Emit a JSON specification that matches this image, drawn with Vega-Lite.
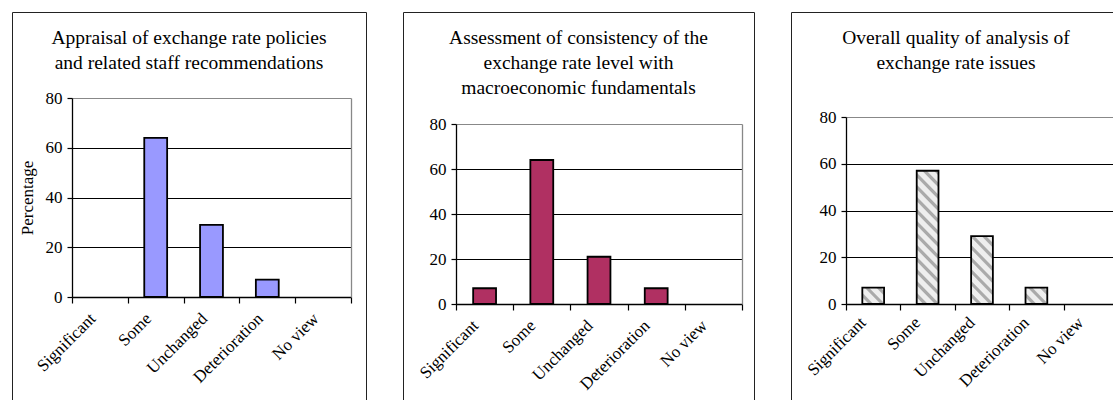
{
  "$schema": "https://vega.github.io/schema/vega-lite/v6.json",
  "padding": {"left": 10, "top": 11, "right": 0, "bottom": 0},
  "spacing": 34,
  "config": {
    "view": {"stroke": "#222", "strokeWidth": 1},
    "font": "Liberation Serif",
    "axis": {"labelFont": "Liberation Serif", "labelFontSize": 17, "labelColor": "black", "titleFont": "Liberation Serif", "titleFontSize": 17, "titleFontWeight": "normal", "titleColor": "black", "domainColor": "black", "tickColor": "black", "domainWidth": 1.3, "tickWidth": 1.2},
    "title": {"font": "Liberation Serif", "fontSize": 19.5, "fontWeight": "normal", "color": "black", "anchor": "middle", "lineHeight": 25, "frame": "group"}
  },
  "datasets": {
    "survey": [
      {"panel": "A", "cat": "Significant", "pct": 0},
      {"panel": "A", "cat": "Some", "pct": 64},
      {"panel": "A", "cat": "Unchanged", "pct": 29},
      {"panel": "A", "cat": "Deterioration", "pct": 7},
      {"panel": "A", "cat": "No view", "pct": 0},
      {"panel": "B", "cat": "Significant", "pct": 7},
      {"panel": "B", "cat": "Some", "pct": 64},
      {"panel": "B", "cat": "Unchanged", "pct": 21},
      {"panel": "B", "cat": "Deterioration", "pct": 7},
      {"panel": "B", "cat": "No view", "pct": 0},
      {"panel": "C", "cat": "Significant", "pct": 7},
      {"panel": "C", "cat": "Some", "pct": 57},
      {"panel": "C", "cat": "Unchanged", "pct": 29},
      {"panel": "C", "cat": "Deterioration", "pct": 7},
      {"panel": "C", "cat": "No view", "pct": 0}
    ]
  },
  "hconcat": [
    {
      "width": 354, "height": 389,
      "data": {"name": "survey"},
      "transform": [{"filter": "datum.panel === 'A' && datum.pct > 0"}],
      "title": {"text": ["Appraisal of exchange rate policies", "and related staff recommendations"], "offset": -61},
      "resolve": {"axis": {"y": "independent"}},
      "layer": [
        {
          "mark": {"type": "bar", "width": {"band": 0.41}, "stroke": "black", "strokeWidth": 1.8, "fill": "#9999FF"},
          "encoding": {
            "x": {"field": "cat", "type": "nominal", "sort": null,
                  "scale": {"domain": ["Significant", "Some", "Unchanged", "Deterioration", "No view"], "range": [60, 339], "paddingInner": 0, "paddingOuter": 0},
                  "axis": {"title": null, "labelAngle": -45, "tickBand": "extent", "offset": -104, "tickSize": 6, "labelPadding": 7, "labelOffset": -13, "grid": false}},
            "y": {"field": "pct", "type": "quantitative",
                  "scale": {"domain": [0, 80], "range": [285, 86], "nice": false},
                  "axis": {"title": "Percentage", "titlePadding": 9, "values": [0, 20, 40, 60, 80], "offset": -60, "tickSize": 5, "labelPadding": 5, "grid": true, "gridWidth": 1, "gridColor": {"condition": {"test": "datum.value === 80", "value": "#888888"}, "value": "black"}}}
          }
        },
        {
          "mark": {"type": "point", "opacity": 0},
          "encoding": {
            "y": {"field": "pct", "type": "quantitative", "axis": {"orient": "right", "title": null, "labels": false, "ticks": false, "grid": false, "domainColor": "#888888", "domainWidth": 1.3, "offset": -15}}
          }
        }
      ]
    },
    {
      "width": 351, "height": 389,
      "data": {"name": "survey"},
      "transform": [{"filter": "datum.panel === 'B' && datum.pct > 0"}],
      "title": {"text": ["Assessment of consistency of the", "exchange rate level with", "macroeconomic fundamentals"], "offset": -86},
      "resolve": {"axis": {"y": "independent"}},
      "layer": [
        {
          "mark": {"type": "bar", "width": {"band": 0.4}, "stroke": "black", "strokeWidth": 1.8, "fill": "#B03062"},
          "encoding": {
            "x": {"field": "cat", "type": "nominal", "sort": null,
                  "scale": {"domain": ["Significant", "Some", "Unchanged", "Deterioration", "No view"], "range": [53, 339], "paddingInner": 0, "paddingOuter": 0},
                  "axis": {"title": null, "labelAngle": -45, "tickBand": "extent", "offset": -97, "tickSize": 6, "labelPadding": 7, "labelOffset": -15, "grid": false}},
            "y": {"field": "pct", "type": "quantitative",
                  "scale": {"domain": [0, 80], "range": [292, 112], "nice": false},
                  "axis": {"title": null, "values": [0, 20, 40, 60, 80], "offset": -53, "tickSize": 5, "labelPadding": 5, "grid": true, "gridWidth": 1, "gridColor": {"condition": {"test": "datum.value === 80", "value": "#888888"}, "value": "black"}}}
          }
        },
        {
          "mark": {"type": "point", "opacity": 0},
          "encoding": {
            "y": {"field": "pct", "type": "quantitative", "axis": {"orient": "right", "title": null, "labels": false, "ticks": false, "grid": false, "domainColor": "#888888", "domainWidth": 1.3, "offset": -12}}
          }
        }
      ]
    },
    {
      "width": 330, "height": 389,
      "data": {"name": "survey"},
      "transform": [{"filter": "datum.panel === 'C' && datum.pct > 0"}],
      "title": {"text": ["Overall quality of analysis of", "exchange rate issues"], "offset": -61},
      "resolve": {"axis": {"y": "independent"}},
      "layer": [
        {
          "mark": {"type": "bar", "width": {"band": 0.4}, "stroke": "black", "strokeWidth": 1.8},
          "encoding": {
            "x": {"field": "cat", "type": "nominal", "sort": null,
                  "scale": {"domain": ["Significant", "Some", "Unchanged", "Deterioration", "No view"], "range": [55, 327], "paddingInner": 0, "paddingOuter": 0},
                  "axis": {"title": null, "labelAngle": -45, "tickBand": "extent", "offset": -97, "tickSize": 6, "labelPadding": 4, "labelOffset": -16, "grid": false}},
            "y": {"field": "pct", "type": "quantitative",
                  "scale": {"domain": [0, 80], "range": [292, 105], "nice": false},
                  "axis": {"title": null, "values": [0, 20, 40, 60, 80], "offset": -55, "tickSize": 5, "labelPadding": 5, "grid": true, "gridWidth": 1, "gridColor": {"condition": {"test": "datum.value === 80", "value": "#888888"}, "value": "black"}}},
            "fill": {
              "condition": [
                {"test": "datum.cat === 'Some'", "value": {"gradient": "linear", "x1": 0, "y1": 1, "x2": 0.19, "y2": -0.136, "stops": [
                  {"offset": 0, "color": "#EEEEEE"}, {"offset": 0.0386, "color": "#EEEEEE"}, {"offset": 0.0479, "color": "#AAAAAA"}, {"offset": 0.0679, "color": "#AAAAAA"},
                  {"offset": 0.0772, "color": "#EEEEEE"}, {"offset": 0.1158, "color": "#EEEEEE"}, {"offset": 0.1251, "color": "#AAAAAA"}, {"offset": 0.1451, "color": "#AAAAAA"},
                  {"offset": 0.1544, "color": "#EEEEEE"}, {"offset": 0.1930, "color": "#EEEEEE"}, {"offset": 0.2023, "color": "#AAAAAA"}, {"offset": 0.2223, "color": "#AAAAAA"},
                  {"offset": 0.2316, "color": "#EEEEEE"}, {"offset": 0.2702, "color": "#EEEEEE"}, {"offset": 0.2795, "color": "#AAAAAA"}, {"offset": 0.2995, "color": "#AAAAAA"},
                  {"offset": 0.3088, "color": "#EEEEEE"}, {"offset": 0.3474, "color": "#EEEEEE"}, {"offset": 0.3567, "color": "#AAAAAA"}, {"offset": 0.3767, "color": "#AAAAAA"},
                  {"offset": 0.3860, "color": "#EEEEEE"}, {"offset": 0.4246, "color": "#EEEEEE"}, {"offset": 0.4339, "color": "#AAAAAA"}, {"offset": 0.4539, "color": "#AAAAAA"},
                  {"offset": 0.4632, "color": "#EEEEEE"}, {"offset": 0.5018, "color": "#EEEEEE"}, {"offset": 0.5111, "color": "#AAAAAA"}, {"offset": 0.5311, "color": "#AAAAAA"},
                  {"offset": 0.5404, "color": "#EEEEEE"}, {"offset": 0.5790, "color": "#EEEEEE"}, {"offset": 0.5883, "color": "#AAAAAA"}, {"offset": 0.6083, "color": "#AAAAAA"},
                  {"offset": 0.6176, "color": "#EEEEEE"}, {"offset": 0.6562, "color": "#EEEEEE"}, {"offset": 0.6655, "color": "#AAAAAA"}, {"offset": 0.6855, "color": "#AAAAAA"},
                  {"offset": 0.6948, "color": "#EEEEEE"}, {"offset": 0.7334, "color": "#EEEEEE"}, {"offset": 0.7427, "color": "#AAAAAA"}, {"offset": 0.7627, "color": "#AAAAAA"},
                  {"offset": 0.7720, "color": "#EEEEEE"}, {"offset": 0.8106, "color": "#EEEEEE"}, {"offset": 0.8199, "color": "#AAAAAA"}, {"offset": 0.8399, "color": "#AAAAAA"},
                  {"offset": 0.8492, "color": "#EEEEEE"}, {"offset": 0.8878, "color": "#EEEEEE"}, {"offset": 0.8971, "color": "#AAAAAA"}, {"offset": 0.9171, "color": "#AAAAAA"},
                  {"offset": 0.9264, "color": "#EEEEEE"}, {"offset": 0.9650, "color": "#EEEEEE"}, {"offset": 0.9743, "color": "#AAAAAA"}, {"offset": 0.9943, "color": "#AAAAAA"},
                  {"offset": 1, "color": "#EEEEEE"}]}},
                {"test": "datum.cat === 'Unchanged'", "value": {"gradient": "linear", "x1": 0, "y1": 1, "x2": 0.394, "y2": -0.199, "stops": [
                  {"offset": 0, "color": "#EEEEEE"}, {"offset": 0.0666, "color": "#EEEEEE"}, {"offset": 0.0826, "color": "#AAAAAA"}, {"offset": 0.1172, "color": "#AAAAAA"},
                  {"offset": 0.1332, "color": "#EEEEEE"}, {"offset": 0.1998, "color": "#EEEEEE"}, {"offset": 0.2158, "color": "#AAAAAA"}, {"offset": 0.2504, "color": "#AAAAAA"},
                  {"offset": 0.2664, "color": "#EEEEEE"}, {"offset": 0.3330, "color": "#EEEEEE"}, {"offset": 0.3490, "color": "#AAAAAA"}, {"offset": 0.3836, "color": "#AAAAAA"},
                  {"offset": 0.3996, "color": "#EEEEEE"}, {"offset": 0.4662, "color": "#EEEEEE"}, {"offset": 0.4822, "color": "#AAAAAA"}, {"offset": 0.5168, "color": "#AAAAAA"},
                  {"offset": 0.5328, "color": "#EEEEEE"}, {"offset": 0.5994, "color": "#EEEEEE"}, {"offset": 0.6154, "color": "#AAAAAA"}, {"offset": 0.6500, "color": "#AAAAAA"},
                  {"offset": 0.6660, "color": "#EEEEEE"}, {"offset": 0.7326, "color": "#EEEEEE"}, {"offset": 0.7486, "color": "#AAAAAA"}, {"offset": 0.7832, "color": "#AAAAAA"},
                  {"offset": 0.7992, "color": "#EEEEEE"}, {"offset": 0.8658, "color": "#EEEEEE"}, {"offset": 0.8818, "color": "#AAAAAA"}, {"offset": 0.9164, "color": "#AAAAAA"},
                  {"offset": 0.9324, "color": "#EEEEEE"}, {"offset": 1, "color": "#EEEEEE"}]}}
              ],
              "value": {"gradient": "linear", "x1": 0, "y1": 1, "x2": 1.126, "y2": 0.172, "stops": [
                {"offset": 0, "color": "#EEEEEE"}, {"offset": 0.155, "color": "#EEEEEE"}, {"offset": 0.1922, "color": "#AAAAAA"}, {"offset": 0.2728, "color": "#AAAAAA"},
                {"offset": 0.310, "color": "#EEEEEE"}, {"offset": 0.465, "color": "#EEEEEE"}, {"offset": 0.5022, "color": "#AAAAAA"}, {"offset": 0.5828, "color": "#AAAAAA"},
                {"offset": 0.620, "color": "#EEEEEE"}, {"offset": 0.775, "color": "#EEEEEE"}, {"offset": 0.8122, "color": "#AAAAAA"}, {"offset": 0.8928, "color": "#AAAAAA"},
                {"offset": 0.930, "color": "#EEEEEE"}, {"offset": 1, "color": "#EEEEEE"}]}
            }
          }
        },
        {
          "mark": {"type": "point", "opacity": 0},
          "encoding": {
            "y": {"field": "pct", "type": "quantitative", "axis": {"orient": "right", "title": null, "labels": false, "ticks": false, "grid": false, "domainColor": "#888888", "domainWidth": 1.3, "offset": -3}}
          }
        }
      ]
    }
  ]
}
